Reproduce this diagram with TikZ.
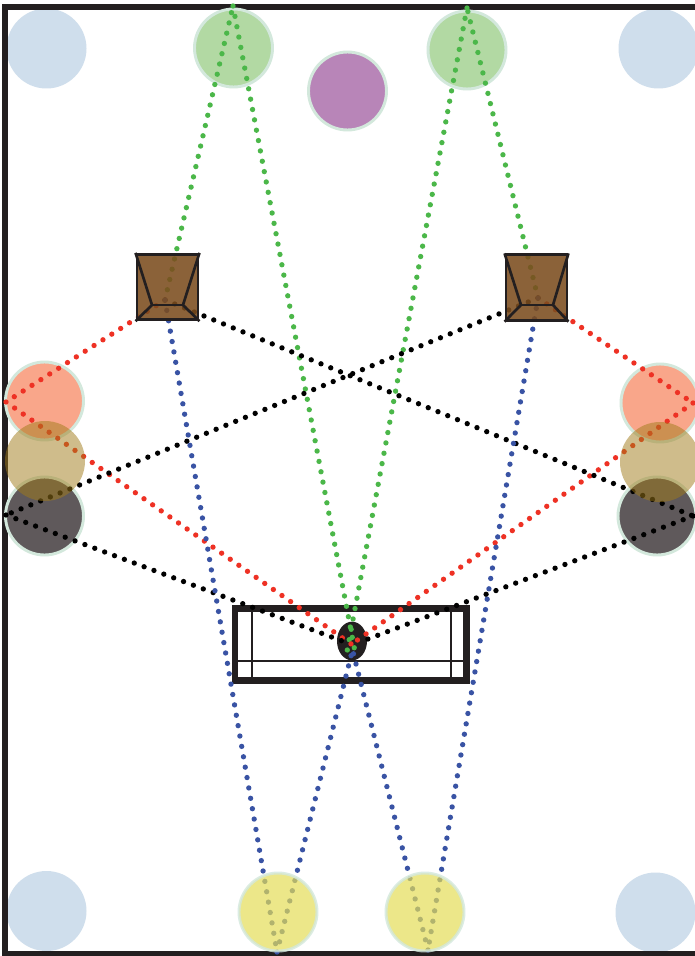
\documentclass[tikz,border=0pt]{standalone}
\usetikzlibrary{shapes.geometric}
\definecolor{frameblk}{HTML}{231F20}
\definecolor{dotgreen}{HTML}{4BB749}
\definecolor{dotred}{HTML}{EE3124}
\definecolor{dotblue}{HTML}{3953A4}
\definecolor{ringc}{HTML}{D3E8DC}
\definecolor{cornerc}{HTML}{CFDEEC}
\definecolor{greenc}{HTML}{B2D9A3}
\definecolor{purplec}{HTML}{B885B8}
\definecolor{salmonc}{HTML}{F9A68A}
\definecolor{tanc}{HTML}{A17B19}
\definecolor{darkc}{HTML}{5F595B}
\definecolor{yellowc}{HTML}{E5DD58}
\definecolor{brownc}{HTML}{7C4D1E}
\tikzset{
 x=0.75pt,y=-0.75pt,
 disc/.style={circle,inner sep=0pt,minimum size=#1*0.75pt},
 ringed/.style={draw=ringc,line width=2.2pt},
 path1/.style={line width=4pt,line cap=round,dash pattern=on 0pt off 7.9pt},
 gpath/.style={path1,draw=dotgreen},
 rpath/.style={path1,draw=dotred},
 kpath/.style={path1,draw=black},
 bpath/.style={path1,draw=dotblue},
 spk/.style={draw=frameblk,line width=2.2pt,fill=brownc,fill opacity=.88,rectangle,inner sep=0pt,minimum width=45.75pt,minimum height=49pt},
 inner/.style={draw=frameblk,line width=2pt,line join=round},
 rackline/.style={draw=frameblk,line width=1.8pt},
}
\begin{document}
\begin{tikzpicture}
\useasboundingbox (0,0) rectangle (695,956);
\fill[white] (0,0) rectangle (695,956);
% under-dot discs
\node[disc=80,fill=cornerc] (c1) at (46.5,48.5) {};
\node[disc=80,fill=cornerc] (c2) at (658.5,48.5) {};
\node[disc=80,fill=cornerc] (c3) at (46.5,911) {};
\node[disc=80,fill=cornerc] (c4) at (655.5,912.5) {};
% frame
\draw[frameblk,line width=4.5pt] (696,7) -- (4.7,7) -- (4.7,953.7) -- (696,953.7);
\node[disc=78,fill=greenc,ringed] (g1) at (233.5,48) {};
\node[disc=78,fill=greenc,ringed] (g2) at (467,50) {};
\node[disc=78,fill=purplec,ringed] (pu) at (347.5,91) {};
\node[disc=78,fill=salmonc,ringed] (s1) at (44.5,401) {};
\node[disc=78,fill=salmonc,ringed] (s2) at (660,403) {};
\node[disc=78,fill=darkc,ringed] (d1) at (44.5,516) {};
\node[disc=78,fill=darkc,ringed] (d2) at (657,516) {};
% rack
\draw[frameblk,line width=4.8pt,fill=white] (235,608.5) rectangle (466.5,680.5);
\draw[rackline] (252,608) -- (252,680) (451,608) -- (451,680) (234,661) -- (467,661);
\node[ellipse,fill=frameblk,inner sep=0pt,minimum width=22.5pt,minimum height=29pt] (li) at (352,641) {};
% reflection points
\coordinate (sl) at (165,300);
\coordinate (sr) at (538,298);
\coordinate (tl) at (233,6);
\coordinate (tr) at (467,8);
\coordinate (wlr) at (6,402);
\coordinate (wlk) at (6,515);
\coordinate (wrr) at (693,403);
\coordinate (wrk) at (693,516);
\coordinate (bl) at (277,952);
\coordinate (br) at (428,950);
\coordinate (eg1) at (356,657);
\coordinate (eg2) at (346,657);
\coordinate (er1) at (354,646);
\coordinate (er2) at (349,646);
\coordinate (ek1) at (345,642);
\coordinate (ek2) at (360,642);
\coordinate (eb1) at (353,648);
\coordinate (eb2) at (352,648);
% dotted paths
\draw[gpath] (sl) -- (tl);
\draw[gpath] (tl) -- (eg1);
\draw[gpath] (sr) -- (tr);
\draw[gpath] (tr) -- (eg2);
\draw[rpath] (sl) -- (wlr);
\draw[rpath] (wlr) -- (er1);
\draw[rpath] (sr) -- (wrr);
\draw[rpath] (wrr) -- (er2);
\draw[kpath] (sl) -- (wrk);
\draw[kpath] (wrk) -- (ek2);
\draw[kpath] (sr) -- (wlk);
\draw[kpath] (wlk) -- (ek1);
\draw[bpath] (sl) -- (bl);
\draw[bpath] (bl) -- (eb1);
\draw[bpath] (sr) -- (br);
\draw[bpath] (br) -- (eb2);
% over-dot discs
\node[disc=80,fill=tanc,fill opacity=.5] (t1) at (45,461) {};
\node[disc=80,fill=tanc,fill opacity=.5] (t2) at (660,462) {};
\node[disc=78,fill=yellowc,fill opacity=.7,draw=ringc,line width=2.2pt,draw opacity=.8] (y1) at (278,912) {};
\node[disc=78,fill=yellowc,fill opacity=.7,draw=ringc,line width=2.2pt,draw opacity=.8] (y2) at (425,912) {};
% speakers
\node[spk] (a) at (167.5,287) {};
\node[spk] (b) at (536.5,287.5) {};
\draw[inner] (a.north west) -- (152,305) -- (a.south west);
\draw[inner] (a.north east) -- (183,305) -- (a.south east);
\draw[inner] (152,305) -- (183,305);
\draw[inner] (b.north west) -- (521,305) -- (b.south west);
\draw[inner] (b.north east) -- (553,305) -- (b.south east);
\draw[inner] (521,305) -- (553,305);
\end{tikzpicture}
\end{document}
